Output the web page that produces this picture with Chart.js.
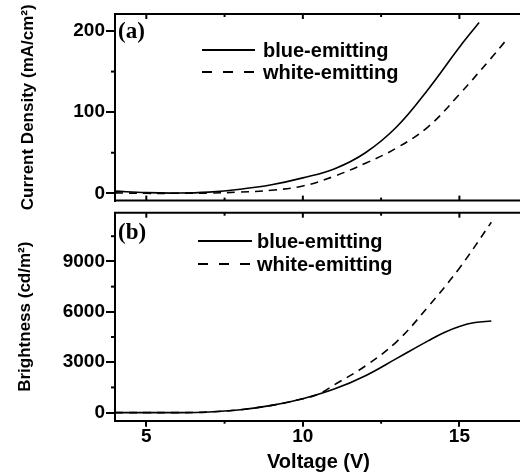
<!DOCTYPE html>
<html>
<head>
<meta charset="utf-8">
<script src="https://cdn.jsdelivr.net/npm/chart.js@4.4.1/dist/chart.umd.min.js"></script>
<style>
    html, body { margin: 0; padding: 0; background: #fff; overflow: hidden; }
    #wrap { position: relative; width: 520px; height: 472px; overflow: hidden; background: #fff; }
    canvas { position: absolute; left: 0; }
    #chartA { top: 0; }
    #chartB { top: 200px; }
</style>
</head>
<body>
<div id="wrap">
    <canvas id="chartA" width="522" height="213"></canvas>
    <canvas id="chartB" width="522" height="272"></canvas>
</div>
<script>
// axis ticks
const voltageTicks = [5, 10, 15];
const voltageMinor = [7.5, 12.5];
const currentTicks = [0, 100, 200];
const currentMinor = [50, 150];
const brightTicks = [0, 3000, 6000, 9000];
const brightMinor = [1500, 4500, 7500, 10500];

const seriesNames = ['blue-emitting', 'white-emitting'];

// (a) current density vs voltage
const blueJV = [4, 5, 6, 7, 8, 9, 10, 11, 12, 13, 14, 15, 15.63];
const blueJ = [2.7, 0.8, 0.3, 1.5, 5, 10.5, 19, 30, 50, 82, 128, 180, 210.5];
const whiteJV = [4, 5, 6, 7, 8, 9, 10, 11, 12, 13, 14, 15, 16, 16.5];
const whiteJ = [0.5, 0, 0, 0.3, 1.5, 3.8, 9, 21, 37, 56, 82, 122, 166, 189];

// (b) brightness vs voltage
const blueLV = [4, 5, 6, 6.6, 7, 8, 9, 10, 11, 12, 13, 14, 14.5, 15, 15.5, 16.02];
const blueL = [0, 0, 0, 10, 40, 170, 430, 830, 1400, 2200, 3230, 4270, 4760, 5130, 5360, 5450];
const whiteLV = [4, 5, 6, 6.6, 7, 8, 9, 10, 10.5, 11, 12, 13, 14, 15, 16.02];
const whiteL = [0, 0, 0, 10, 40, 170, 430, 830, 1100, 1650, 2780, 4230, 6300, 8600, 11330];

const SANS = '"Liberation Sans", Arial, sans-serif';
const tickFont = { family: SANS, size: 19, weight: 'bold' };
const titleFont = { family: SANS, size: 17, weight: 'bold' };

const pts = (xs, ys) => xs.map((x, i) => ({ x, y: ys[i] }));

// frame: top edge, inward ticks, minor ticks, inset legend and panel tag
const frameTicks = {
    id: 'frameTicks',
    afterDraw(chart, args, o) {
        const { ctx, chartArea: a, scales: { x, y } } = chart;
        const seg = (x1, y1, x2, y2) => { ctx.beginPath(); ctx.moveTo(x1, y1); ctx.lineTo(x2, y2); ctx.stroke(); };
        ctx.save();
        ctx.strokeStyle = '#000';
        ctx.lineWidth = 2;
        seg(a.left - 1, a.top, a.right, a.top);
        if (o.bottomLine) seg(a.left - 1, a.bottom, a.right, a.bottom);

        voltageTicks.forEach(v => {
            const px = x.getPixelForValue(v);
            seg(px, a.top, px, a.top + 5);
            if (o.bottomIn) seg(px, a.bottom, px, a.bottom - 5);
        });
        voltageMinor.forEach(v => {
            const px = x.getPixelForValue(v);
            seg(px, a.top, px, a.top + 3);
            if (o.bottomIn) seg(px, a.bottom, px, a.bottom - 3);
            else seg(px, a.bottom, px, a.bottom + 3);
        });
        o.yMinor.forEach(v => {
            const py = y.getPixelForValue(v);
            seg(a.left, py, a.left - 4, py);
        });

        // legend
        ctx.font = 'bold 20px ' + SANS;
        ctx.textBaseline = 'middle';
        ctx.fillStyle = '#000';
        chart.data.datasets.forEach((ds, i) => {
            const ly = o.legendY[i];
            ctx.setLineDash(ds.borderDash && ds.borderDash.length ? [10, 11] : []);
            seg(o.legendX, ly, o.legendX + o.lineLen, ly);
            ctx.setLineDash([]);
            ctx.fillText(ds.label, o.textX, ly + 1);
        });

        ctx.font = 'bold 23px "Liberation Serif", "Times New Roman", serif';
        ctx.fillText(o.tag, o.tagX, o.tagY);
        ctx.restore();
    }
};

function yScale(min, max, ticks, title, titlePad) {
    return {
        type: 'linear', min, max,
        afterBuildTicks: s => { s.ticks = ticks.map(v => ({ value: v })); },
        afterFit: s => { s.width = 115; },
        ticks: { color: '#000', font: tickFont, padding: 1, callback: v => v },
        grid: { drawOnChartArea: false, drawTicks: true, tickLength: 9, lineWidth: 2, color: '#000' },
        border: { display: true, width: 2, color: '#000' },
        title: { display: true, text: title, color: '#000', font: titleFont, padding: { top: titlePad, bottom: 0 } }
    };
}

function lineSet(label, data, dashed) {
    return {
        label, data,
        borderColor: '#000', borderWidth: 1.6, borderDash: dashed ? [8, 6] : [],
        pointRadius: 0, tension: 0.4, fill: false
    };
}

const chartA = new Chart(document.getElementById('chartA'), {
    type: 'line',
    data: {
        datasets: [
            lineSet(seriesNames[0], pts(blueJV, blueJ), false),
            lineSet(seriesNames[1], pts(whiteJV, whiteJ), true)
        ]
    },
    options: {
        responsive: false, animation: false, devicePixelRatio: 1,
        layout: { padding: { top: 14, left: 0, right: 0, bottom: 0 } },
        plugins: {
            legend: { display: false }, tooltip: { enabled: false },
            frameTicks: {
                bottomIn: true, bottomLine: true, yMinor: currentMinor,
                legendX: 202, legendY: [50, 72], lineLen: 53, textX: 263,
                tag: '(a)', tagX: 118, tagY: 32
            }
        },
        scales: {
            x: { type: 'linear', min: 4, max: 17, display: false },
            y: yScale(-9, 221, currentTicks, 'Current Density (mA/cm²)', 18)
        }
    },
    plugins: [frameTicks]
});

const chartB = new Chart(document.getElementById('chartB'), {
    type: 'line',
    data: {
        datasets: [
            lineSet(seriesNames[0], pts(blueLV, blueL), false),
            lineSet(seriesNames[1], pts(whiteLV, whiteL), true)
        ]
    },
    options: {
        responsive: false, animation: false, devicePixelRatio: 1,
        layout: { padding: { top: 12.7, left: 0, right: 0, bottom: 0 } },
        plugins: {
            legend: { display: false }, tooltip: { enabled: false },
            frameTicks: {
                bottomIn: false, bottomLine: false, yMinor: brightMinor,
                legendX: 198, legendY: [41, 64], lineLen: 54, textX: 257,
                tag: '(b)', tagX: 118, tagY: 33
            }
        },
        scales: {
            x: {
                type: 'linear', min: 4, max: 17,
                afterBuildTicks: s => { s.ticks = voltageTicks.map(v => ({ value: v })); },
                afterFit: s => { s.height = 51.3; },
                ticks: { color: '#000', font: { ...tickFont, lineHeight: 1.1 }, padding: 0, maxRotation: 0, callback: v => v },
                grid: { drawOnChartArea: false, drawTicks: true, tickLength: 6, lineWidth: 2, color: '#000' },
                border: { display: true, width: 2, color: '#000' },
                title: { display: true, text: 'Voltage (V)', color: '#000', font: { family: SANS, size: 20, weight: 'bold', lineHeight: 1 }, padding: { top: 0, bottom: 0 } }
            },
            y: yScale(-480, 11900, brightTicks, 'Brightness (cd/m²)', 15)
        }
    },
    plugins: [frameTicks]
});
</script>
</body>
</html>
